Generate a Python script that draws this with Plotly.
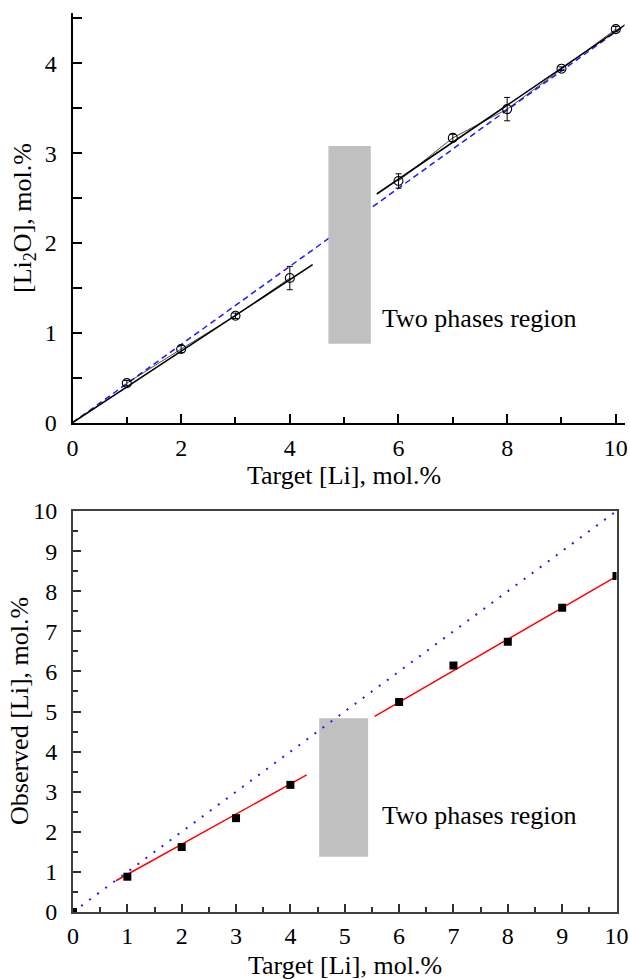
import plotly.graph_objects as go

W, H = 630, 979
FONT = "Liberation Serif"

# ---------------- data: top panel ----------------
top_x_low = [1, 2, 3, 4]
top_y_low = [0.44, 0.82, 1.19, 1.61]
top_err_low = [0.03, 0.04, 0.03, 0.13]
top_x_high = [6, 7, 8, 9, 10]
top_y_high = [2.69, 3.17, 3.49, 3.94, 4.38]
top_err_high = [0.08, 0.04, 0.13, 0.02, 0.03]
top_fit_low_x = [0, 4.42]
top_fit_low_y = [0, 1.76]
top_fit_high_x = [5.6, 10.2]
top_fit_high_y = [2.545, 4.44]
top_ref_x = [0, 10.16]
top_ref_y = [0, 4.42]
top_region_x = [4.71, 5.49]
top_region_y = [0.88, 3.08]
top_label_pos = [5.66, 1.16]

# ---------------- data: bottom panel ----------------
bot_x = [0, 1, 2, 3, 4, 6, 7, 8, 9, 10]
bot_y = [0, 0.88, 1.62, 2.34, 3.17, 5.24, 6.15, 6.74, 7.59, 8.38]
bot_fit_low_x = [0.79, 4.3]
bot_fit_low_y = [0.78, 3.42]
bot_fit_high_x = [5.55, 10.0]
bot_fit_high_y = [4.88, 8.37]
bot_ref_x = [0.15, 10]
bot_ref_y = [0.15, 10]
bot_region_x = [4.53, 5.43]
bot_region_y = [1.38, 4.83]
bot_label_pos = [5.64, 2.41]

text_label = "Two phases region"


def px_x(p):
    return p / W


def px_y(p):
    return 1 - p / H


fig = go.Figure()

# top panel traces
fig.add_trace(go.Scatter(x=top_ref_x, y=top_ref_y, mode="lines",
                         line=dict(color="#1a1aff", width=1.5, dash="6px,4px"),
                         xaxis="x", yaxis="y", showlegend=False))
fig.add_trace(go.Scatter(x=top_fit_low_x, y=top_fit_low_y, mode="lines",
                         line=dict(color="black", width=1.6),
                         xaxis="x", yaxis="y", showlegend=False))
fig.add_trace(go.Scatter(x=top_fit_high_x, y=top_fit_high_y, mode="lines",
                         line=dict(color="black", width=1.6),
                         xaxis="x", yaxis="y", showlegend=False))
for xs, ys, es in [(top_x_low, top_y_low, top_err_low),
                   (top_x_high, top_y_high, top_err_high)]:
    fig.add_trace(go.Scatter(
        x=xs, y=ys, mode="lines+markers",
        line=dict(color="black", width=0.7),
        marker=dict(symbol="circle-open", size=9, color="black",
                    line=dict(width=1.1, color="black")),
        error_y=dict(type="data", array=es, visible=True, color="black",
                     thickness=1, width=3),
        xaxis="x", yaxis="y", showlegend=False))

# bottom panel traces
fig.add_trace(go.Scatter(x=bot_ref_x, y=bot_ref_y, mode="lines",
                         line=dict(color="#1a1aff", width=2, dash="2px,8px"),
                         xaxis="x2", yaxis="y2", showlegend=False))
fig.add_trace(go.Scatter(x=bot_fit_low_x, y=bot_fit_low_y, mode="lines",
                         line=dict(color="#ff0000", width=1.5),
                         xaxis="x2", yaxis="y2", showlegend=False))
fig.add_trace(go.Scatter(x=bot_fit_high_x, y=bot_fit_high_y, mode="lines",
                         line=dict(color="#ff0000", width=1.5),
                         xaxis="x2", yaxis="y2", showlegend=False))
fig.add_trace(go.Scatter(x=bot_x, y=bot_y, mode="markers",
                         marker=dict(symbol="square", size=8, color="black"),
                         xaxis="x2", yaxis="y2", showlegend=False))

tickfont = dict(family=FONT, size=24, color="black")

fig.update_layout(
    template="none",
    width=W, height=H,
    margin=dict(l=0, r=0, t=0, b=0, pad=0),
    paper_bgcolor="white", plot_bgcolor="white",
    font=dict(family=FONT, color="black"),
    xaxis=dict(domain=[px_x(72.5), px_x(624.5)], range=[0, 10.16],
               anchor="y", showgrid=False, zeroline=False, automargin=False,
               showline=True, linecolor="black", linewidth=2,
               tickmode="array", tickvals=[0, 2, 4, 6, 8, 10],
               ticks="inside", ticklen=9, tickwidth=1.5, tickcolor="black",
               minor=dict(tickvals=[1, 3, 5, 7, 9], ticks="inside",
                          ticklen=6, tickwidth=1.5, tickcolor="black"),
               tickfont=tickfont, ticklabelstandoff=2),
    yaxis=dict(domain=[px_y(422.7), px_y(12.7)], range=[0, 4.563],
               anchor="x", showgrid=False, zeroline=False, automargin=False,
               showline=True, linecolor="black", linewidth=2,
               tickmode="array", tickvals=[0, 1, 2, 3, 4],
               ticks="inside", ticklen=9, tickwidth=1.5, tickcolor="black",
               minor=dict(tickvals=[0.5, 1.5, 2.5, 3.5, 4.5], ticks="inside",
                          ticklen=9, tickwidth=1.5, tickcolor="black"),
               tickfont=tickfont, ticklabelstandoff=9),
    xaxis2=dict(domain=[px_x(73), px_x(616.5)], range=[0, 10],
                anchor="y2", showgrid=False, zeroline=False, automargin=False,
                showline=True, linecolor="#404040", linewidth=2, mirror=True,
                tickmode="array", tickvals=list(range(0, 11)),
                ticks="inside", ticklen=8, tickwidth=1.5, tickcolor="#303030",
                minor=dict(tickvals=[i + 0.5 for i in range(10)], ticks="inside",
                           ticklen=5, tickwidth=1.5, tickcolor="#303030"),
                tickfont=tickfont, ticklabelstandoff=1),
    yaxis2=dict(domain=[px_y(912), px_y(511)], range=[0, 10],
                anchor="x2", showgrid=False, zeroline=False, automargin=False,
                showline=True, linecolor="#404040", linewidth=2, mirror=True,
                tickmode="array", tickvals=list(range(0, 11)),
                ticks="inside", ticklen=8, tickwidth=1.5, tickcolor="#303030",
                minor=dict(tickvals=[i + 0.5 for i in range(10)], ticks="inside",
                           ticklen=5, tickwidth=1.5, tickcolor="#303030"),
                tickfont=tickfont, ticklabelstandoff=9),
)

# two-phase regions
fig.add_shape(type="rect", xref="x", yref="y",
              x0=top_region_x[0], x1=top_region_x[1],
              y0=top_region_y[0], y1=top_region_y[1],
              fillcolor="#c0c0c0", line=dict(width=0), layer="above")
fig.add_shape(type="rect", xref="x2", yref="y2",
              x0=bot_region_x[0], x1=bot_region_x[1],
              y0=bot_region_y[0], y1=bot_region_y[1],
              fillcolor="#c0c0c0", line=dict(width=0), layer="below")

lab_font = dict(family=FONT, size=26, color="black")
fig.add_annotation(x=top_label_pos[0], y=top_label_pos[1], xref="x", yref="y",
                   text=text_label, showarrow=False, xanchor="left",
                   yanchor="middle", font=lab_font)
fig.add_annotation(x=bot_label_pos[0], y=bot_label_pos[1], xref="x2", yref="y2",
                   text=text_label, showarrow=False, xanchor="left",
                   yanchor="middle", font=lab_font)

# axis titles
fig.add_annotation(x=px_x(344), y=px_y(475.5), xref="paper", yref="paper",
                   text="Target [Li], mol.%", showarrow=False,
                   xanchor="center", yanchor="middle", font=lab_font)
fig.add_annotation(x=px_x(345), y=px_y(965.5), xref="paper", yref="paper",
                   text="Target [Li], mol.%", showarrow=False,
                   xanchor="center", yanchor="middle", font=lab_font)
fig.add_annotation(x=px_x(24), y=px_y(218), xref="paper", yref="paper",
                   text="[Li<sub>2</sub>O], mol.%", showarrow=False, textangle=-90,
                   xanchor="center", yanchor="middle", font=lab_font)
fig.add_annotation(x=px_x(19), y=px_y(711), xref="paper", yref="paper",
                   text="Observed [Li], mol.%", showarrow=False, textangle=-90,
                   xanchor="center", yanchor="middle", font=lab_font)

fig.write_html("out.html",
               config={"displayModeBar": False},
               post_script="document.body.style.margin='0';"
                           "document.body.style.overflow='hidden';")
